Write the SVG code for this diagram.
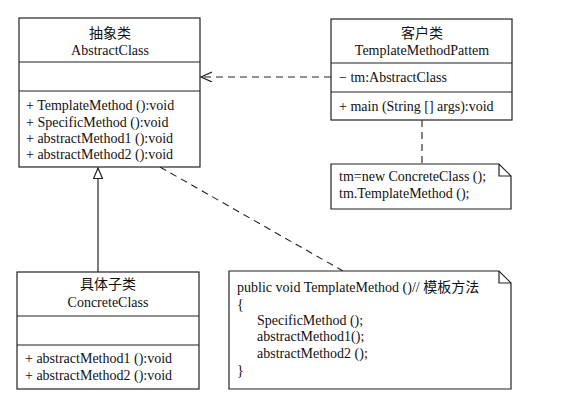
<svg xmlns="http://www.w3.org/2000/svg" width="561" height="404" viewBox="0 0 561 404">
<defs>
<style>
.box{fill:#fff;stroke:#222;stroke-width:1.2}
.ln{stroke:#222;stroke-width:1.2;fill:none}
.dash{stroke:#222;stroke-width:1.1;fill:none;stroke-dasharray:7 5}
text{font-family:"Liberation Serif","Noto Sans CJK SC",serif;font-size:14px;fill:#111}
.c{text-anchor:middle}
</style>
<marker id="open" markerWidth="14" markerHeight="12" refX="11" refY="5" orient="auto" markerUnits="userSpaceOnUse">
<path d="M0,0 L11,5 L0,10" fill="none" stroke="#222" stroke-width="1.2"/>
</marker>
<marker id="tri" markerWidth="14" markerHeight="14" refX="11" refY="5" orient="auto" markerUnits="userSpaceOnUse">
<path d="M0.5,0.5 L11,5 L0.5,9.5 Z" fill="#fff" stroke="#222" stroke-width="1.2"/>
</marker>
</defs>
<rect width="561" height="404" fill="#fff"/>

<g id="connectors">
<line class="dash" x1="331" y1="77" x2="201" y2="77" marker-end="url(#open)"/>
<line class="dash" x1="422" y1="120" x2="422" y2="164"/>
<line class="dash" x1="160" y1="167" x2="343" y2="271"/>
<line class="ln" x1="98" y1="272" x2="98" y2="168" marker-end="url(#tri)"/>
</g>

<g id="AbstractClass">
<rect class="box" x="19" y="18" width="181" height="149"/>
<line class="ln" x1="19" y1="62" x2="200" y2="62"/>
<line class="ln" x1="19" y1="91" x2="200" y2="91"/>
<text class="c" x="110" y="38">抽象类</text>
<text class="c" x="110" y="55">AbstractClass</text>
<text x="26" y="110">+ TemplateMethod ():void</text>
<text x="26" y="127">+ SpecificMethod ():void</text>
<text x="26" y="143">+ abstractMethod1 ():void</text>
<text x="26" y="159">+ abstractMethod2 ():void</text>
</g>

<g id="Client">
<rect class="box" x="331" y="19" width="181" height="101"/>
<line class="ln" x1="331" y1="63" x2="512" y2="63"/>
<line class="ln" x1="331" y1="92" x2="512" y2="92"/>
<text class="c" x="422" y="38">客户类</text>
<text class="c" x="422" y="55">TemplateMethodPattem</text>
<text x="339" y="82">− tm:AbstractClass</text>
<text x="339" y="111">+ main (String [] args):void</text>
</g>

<g id="Note1">
<path class="box" d="M331,164 H499 L511,176 V209 H331 Z"/>
<path class="ln" d="M499,164 V176 H511"/>
<text x="339" y="181">tm=new ConcreteClass ();</text>
<text x="339" y="198">tm.TemplateMethod ();</text>
</g>

<g id="ConcreteClass">
<rect class="box" x="17" y="272" width="182" height="117"/>
<line class="ln" x1="17" y1="316" x2="199" y2="316"/>
<line class="ln" x1="17" y1="345" x2="199" y2="345"/>
<text class="c" x="108" y="289">具体子类</text>
<text class="c" x="108" y="307">ConcreteClass</text>
<text x="25" y="363">+ abstractMethod1 ():void</text>
<text x="25" y="380">+ abstractMethod2 ():void</text>
</g>

<g id="Note2">
<path class="box" d="M229,271 H499 L511,283 V389 H229 Z"/>
<path class="ln" d="M499,271 V283 H511"/>
<text x="237" y="292">public void TemplateMethod ()// 模板方法</text>
<text x="237" y="309">{</text>
<text x="257" y="325">SpecificMethod ();</text>
<text x="257" y="341">abstractMethod1();</text>
<text x="257" y="358">abstractMethod2 ();</text>
<text x="237" y="375">}</text>
</g>
</svg>
